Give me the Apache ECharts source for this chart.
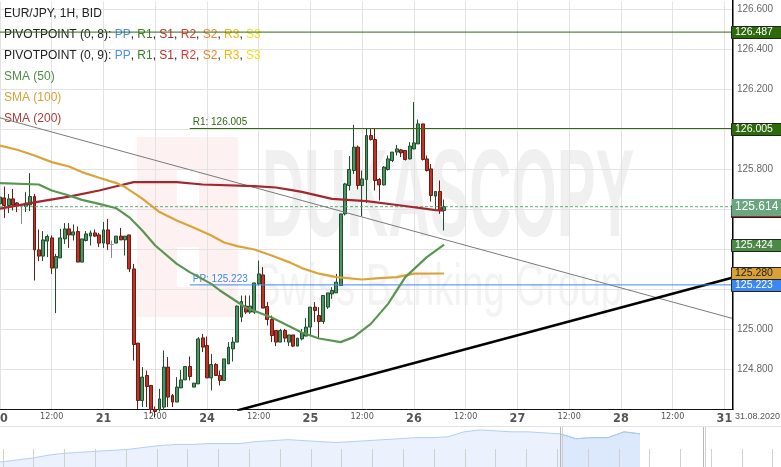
<!DOCTYPE html>
<html><head><meta charset="utf-8">
<script src="https://cdn.jsdelivr.net/npm/echarts@6/dist/echarts.min.js"></script>
<style>html,body{margin:0;padding:0;background:#fff;overflow:hidden}#c{width:781px;height:467px}</style>
</head><body><div id="c"></div>
<script>
// ---------- DATA ----------
const dayLabels = ['20','21','24','25','26','27','28','31'];
const lastDateLabel = '31.08.2020';
// hourly candles [open, close, low, high]
const candles = [
[125.628,125.662,125.620,125.712],[125.658,125.620,125.558,125.715],[125.620,125.653,125.582,125.678],
[125.653,125.623,125.595,125.703],[125.633,125.617,125.587,125.637],[125.620,125.620,125.528,125.622],
[125.615,125.632,125.587,125.687],[125.623,125.665,125.592,125.782],[125.665,125.398,125.245,125.678],
[125.398,125.367,125.342,125.500],[125.367,125.448,125.342,125.492],[125.442,125.465,125.362,125.475],
[125.458,125.307,125.278,125.470],[125.307,125.365,125.082,125.378],[125.358,125.458,125.358,125.503],
[125.453,125.503,125.428,125.532],[125.503,125.473,125.408,125.532],[125.472,125.488,125.445,125.525],
[125.490,125.337,125.337,125.515],[125.337,125.453,125.337,125.453],[125.445,125.478,125.440,125.492],
[125.467,125.483,125.420,125.495],[125.483,125.467,125.462,125.500],[125.473,125.432,125.412,125.483],
[125.432,125.498,125.408,125.537],[125.498,125.428,125.398,125.553],[125.425,125.425,125.358,125.445],
[125.432,125.467,125.432,125.467],[125.467,125.448,125.448,125.508],[125.448,125.467,125.370,125.467],
[125.473,125.303,125.287,125.473],[125.303,124.925,124.845,125.328],[124.932,124.645,124.603,124.932],
[124.645,124.762,124.612,124.812],[124.770,124.715,124.612,124.795],[124.720,124.600,124.580,124.720],
[124.600,124.590,124.560,124.615],[124.600,124.653,124.590,124.703],[124.612,124.812,124.600,124.895],
[124.812,124.662,124.612,124.862],[124.670,124.637,124.612,124.678],[124.637,124.712,124.637,124.762],
[124.708,124.748,124.708,124.798],[124.748,124.815,124.748,124.815],[124.815,124.765,124.745,124.865],
[124.712,124.732,124.712,124.732],[124.728,124.953,124.728,124.962],[124.958,124.912,124.887,124.978],
[124.920,124.758,124.758,124.965],[124.758,124.825,124.695,124.878],[124.825,124.770,124.770,124.832],
[124.770,124.745,124.720,124.795],[124.745,124.853,124.745,124.853],[124.828,124.912,124.828,124.937],
[124.903,124.937,124.840,124.962],[124.937,125.117,124.937,125.120],[125.062,125.140,125.037,125.170],
[125.117,125.087,125.078,125.170],[125.087,125.117,125.078,125.170],[125.087,125.233,125.078,125.233],
[125.228,125.278,125.220,125.345],[125.273,125.107,125.107,125.312],[125.115,125.050,125.020,125.137],
[125.050,124.970,124.937,125.070],[124.995,124.937,124.917,124.995],[124.937,124.995,124.937,125.003],
[124.995,124.957,124.937,125.003],[124.937,124.973,124.917,124.973],[124.973,124.917,124.912,124.973],
[124.917,124.957,124.917,124.957],[124.953,124.983,124.945,125.003],[124.967,125.012,124.967,125.057],
[125.012,125.112,124.970,125.112],[125.112,125.095,125.037,125.137],[125.070,125.040,124.953,125.112],
[125.040,125.170,125.028,125.170],[125.112,125.183,125.103,125.183],[125.178,125.195,125.153,125.212],
[125.183,125.237,125.183,125.278],[125.220,125.578,125.217,125.578],[125.578,125.728,125.570,125.733],
[125.720,125.800,125.695,125.867],[125.795,125.912,125.778,126.023],[125.912,125.720,125.700,125.920],
[125.720,125.753,125.567,125.795],[125.750,125.970,125.633,126.003],[125.970,125.950,125.945,126.003],
[125.950,125.745,125.695,126.003],[125.750,125.723,125.645,125.757],[125.723,125.812,125.720,125.817],
[125.800,125.853,125.795,125.870],[125.845,125.887,125.837,125.887],[125.887,125.903,125.870,125.923],
[125.898,125.883,125.862,125.903],[125.895,125.850,125.845,125.895],[125.853,125.917,125.850,125.937],
[125.903,125.933,125.900,126.137],[125.928,126.028,125.928,126.050],[126.028,125.850,125.845,126.028],
[125.853,125.795,125.790,125.870],[125.803,125.670,125.640,125.828],[125.667,125.690,125.603,125.690],
[125.690,125.595,125.578,125.745],[125.595,125.614,125.495,125.650]
];
// moving averages read at selected hours [hourIndex, value]
const sma50 = [[0,125.732],[9,125.725],[12,125.695],[16,125.67],[19,125.648],[23,125.628],[27,125.606],
 [30,125.561],[33,125.495],[36,125.42],[41,125.328],[44,125.287],[49,125.228],[51,125.195],[57,125.11],
 [63,125.06],[70,124.985],[74,124.955],[79,124.937],[82,124.962],[86,125.028],[90,125.128],[94,125.262],
 [99,125.362],[103,125.424]];
const sma100 = [[0,125.92],[4,125.899],[8,125.87],[12,125.837],[16,125.815],[19,125.787],[23,125.759],
 [27,125.732],[29,125.712],[33,125.654],[37,125.587],[41,125.545],[45,125.509],[49,125.47],[52,125.435],
 [55,125.417],[59,125.4],[63,125.37],[67,125.337],[70,125.307],[74,125.279],[78,125.262],[84,125.25],
 [88,125.257],[92,125.262],[96,125.279],[103,125.28]];
const sma200 = [[0,125.604],[8,125.636],[16,125.664],[23,125.695],[27,125.716],[31,125.737],[41,125.737],
 [47,125.725],[59,125.717],[64,125.71],[67,125.699],[70,125.688],[77,125.653],[85,125.642],[93,125.62],
 [101,125.597],[103,125.594]];
const pivotPrev = 126.487, pivotR1 = 126.005, pivotPP = 125.223, lastPrice = 125.614;
const pivotStartHour = 44;
const trendGray = [[0,126.0585],[170,125.0545]];
const trendBlack = [[55,124.595],[170,125.26]];
// overview navigator (EUR/JPY, earlier period)
const navValues = [121.00,121.31,121.63,122.10,122.41,122.57,122.73,122.88,123.04,123.36,123.67,123.83,
 123.83,123.98,123.98,123.98,124.30,124.45,124.61,124.45,124.30,124.14,124.30,124.45,124.61,124.77,124.93,
 124.93,125.08,125.87,126.18,126.02,125.87,125.87,125.71,125.55,124.77,124.93,124.93,125.87,125.55];
const navSelStart = 35;
const yMin = 124.6, yMax = 126.64, xMax = 170;

// ---------- CHART ----------
const FONT = '"Liberation Sans", Arial, sans-serif';
const categories = [];
for (let i = 0; i <= xMax; i++) {
  const d = dayLabels[Math.floor(i / 24)] || '31';
  const h = i % 24;
  categories.push(d + ' ' + String(h).padStart(2, '0') + ':00');
}
const chart = echarts.init(document.getElementById('c'));
function ln(data, color, width, extra) {
  return Object.assign({type:'line', xAxisIndex:1, yAxisIndex:0, data, showSymbol:false, symbol:'none',
    silent:true, animation:false, lineStyle:{color, width}, z:4}, extra || {});
}
const navSel = navValues.map((v, i) => i >= navSelStart ? v : null);
const option = {
  animation:false,
  textStyle:{fontFamily:FONT},
  grid:[{left:0, top:1.5, width:733, height:408, containLabel:false, outerBoundsMode:'none'},
        {left:0, top:427, width:640, height:40, containLabel:false, outerBoundsMode:'none'}],
  xAxis:[
    {type:'category', gridIndex:0, data:categories, boundaryGap:false,
     axisLine:{show:true, onZero:false, lineStyle:{color:'#111', width:1}}, axisTick:{show:false},
     axisLabel:{interval:11, margin:3, color:'#555',
       formatter:v => { const p = v.split(' '); return p[1] === '00:00' ? '{d|' + p[0] + '}' : '{t|' + p[1] + '}'; },
       rich:{d:{fontSize:12.5, fontWeight:'bold', color:'#555', fontFamily:'"DejaVu Sans Condensed", "Liberation Sans Narrow", ' + FONT},
             t:{fontSize:9, color:'#555', fontFamily:'"DejaVu Sans Condensed", ' + FONT}}},
     splitLine:{show:true, interval:11, lineStyle:{color:'#e3e3e3', width:1}}},
    {type:'value', gridIndex:0, min:0, max:xMax, show:false},
    {type:'category', gridIndex:1, data:navValues.map((v,i)=>i), boundaryGap:false, show:false}
  ],
  yAxis:[
    {type:'value', gridIndex:0, position:'right', min:yMin, max:yMax, interval:0.2,
     axisLine:{show:false}, axisTick:{show:false},
     axisLabel:{color:'#666', fontSize:10, margin:4, showMinLabel:false, showMaxLabel:false,
       formatter:v => (Math.abs(v*5 - Math.round(v*5)) < 1e-6 ? v.toFixed(3) : '')},
     splitLine:{show:true, showMinLine:false, showMaxLine:false, lineStyle:{color:'#e3e3e3', width:1}}},
    {type:'value', gridIndex:1, min:120.2, max:126.65, show:false}
  ],
  series:[
    {type:'candlestick', xAxisIndex:0, yAxisIndex:0, data:candles, barWidth:3.4, z:3,
     itemStyle:{color:'#4e9463', color0:'#be3428', borderColor:'#1d4f2c', borderColor0:'#6b1a14',
       borderColorDoji:'#888', borderWidth:1}},
    ln(trendGray, '#7a7a7a', 1),
    ln(trendBlack, '#000', 2.5),
    ln([[0,pivotPrev],[xMax,pivotPrev]], '#2e6b12', 1),
    ln([[pivotStartHour,pivotR1],[xMax,pivotR1]], '#2e6b12', 1),
    ln([[pivotStartHour,pivotPP],[xMax,pivotPP]], '#3d88f0', 1),
    ln([[0,lastPrice],[xMax,lastPrice]], '#5aaa78', 1, {lineStyle:{color:'#5aaa78', width:1, type:[3,2]}}),
    ln(sma200, '#a3272f', 2.2, {z:5}),
    ln(sma100, '#daa43a', 2.2, {z:5}),
    ln(sma50, '#5a9652', 2.2, {z:5}),
    {type:'line', xAxisIndex:2, yAxisIndex:1, data:navValues, showSymbol:false, symbol:'none', silent:true,
     lineStyle:{color:'#b4cff3', width:1}, areaStyle:{color:'#ebf2fd', opacity:1}},
    {type:'line', xAxisIndex:2, yAxisIndex:1, data:navSel, showSymbol:false, symbol:'none', silent:true,
     lineStyle:{color:'#a9c7f2', width:1}, areaStyle:{color:'#dce8fb', opacity:1}}
  ]
};
chart.setOption(option);

// ---------- decorations placed through the axes ----------
const g = [];
function yPx(v) { return chart.convertToPixel({yAxisIndex:0}, v); }
function px(i, v) { return chart.convertToPixel({xAxisIndex:1, yAxisIndex:0}, [i, v]); }
// right price-axis border
const pTop = px(xMax, yMax), pBot = px(xMax, yMin);
g.push({type:'rect', z:60, shape:{x:Math.round(pTop[0]) - 1, y:0, width:1.5, height:Math.round(pBot[1])}, style:{fill:'#000'}});
// watermark
g.push({type:'rect', z:-5, shape:{x:137, y:137, width:101, height:180}, style:{fill:'#fdf1f1'}});
g.push({type:'rect', z:-5, shape:{x:177, y:170, width:22, height:35}, style:{fill:'#fff'}});
g.push({type:'rect', z:-5, shape:{x:177, y:247, width:22, height:40}, style:{fill:'#fff'}});
g.push({type:'text', z:-5, x:262, y:140, scaleX:0.47, style:{text:'DUKASCOPY', font:'bold 124px ' + FONT, fill:'#f0f0f0'}});
g.push({type:'text', z:-5, x:255, y:258, scaleX:0.64, style:{text:'Swiss Banking Group', font:'60px ' + FONT, fill:'#f3f3f3'}});
// legend
g.push({type:'text', x:4, y:8, style:{text:'EUR/JPY, 1H, BID', font:'12px ' + FONT, fill:'#222'}});
const pivRich = {k:{fill:'#222', font:'12px ' + FONT}, pp:{fill:'#4a8ff0'}, r1:{fill:'#3a7d2a'}, s1:{fill:'#b52b2b'},
  r2:{fill:'#e8332b'}, s2:{fill:'#f0822a'}, r3:{fill:'#f5b800'}, s3:{fill:'#f0e21c'}};
['PIVOTPOINT (0, 8): ', 'PIVOTPOINT (0, 9): '].forEach((t, k) => {
  g.push({type:'text', x:4, y:29 + k*21, style:{
    text:'{k|' + t + '}{pp|PP}{k|, }{r1|R1}{k|, }{s1|S1}{k|, }{r2|R2}{k|, }{s2|S2}{k|, }{r3|R3}{k|, }{s3|S3}',
    font:'12px ' + FONT, rich:pivRich}});
});
[['SMA (50)', '#4e8f46'], ['SMA (100)', '#d9a035'], ['SMA (200)', '#b23a3a']].forEach((a, k) => {
  g.push({type:'text', x:4, y:71 + k*20.7, style:{text:a[0], font:'12px ' + FONT, fill:a[1]}});
});
// pivot labels
const pr1 = px(pivotStartHour, pivotR1), ppp = px(pivotStartHour, pivotPP);
g.push({type:'text', x:pr1[0] + 3, y:pr1[1] - 11, style:{text:'R1: ' + pivotR1.toFixed(3), font:'10px ' + FONT, fill:'#2e6b12'}});
g.push({type:'text', x:ppp[0] + 3, y:ppp[1] - 11, style:{text:'PP: ' + pivotPP.toFixed(3), font:'10px ' + FONT, fill:'#3d88f0'}});
// price boxes
let bz = 70;
function box(v, bg, fg, fs, h, border) {
  const y = Math.round(yPx(v));
  g.push({type:'rect', z:bz++, shape:{x:731.5, y:y - h/2 + 0.5, width:52, height:h},
    style:{fill:bg, stroke:border ? '#222' : null, lineWidth:border ? 1 : 0}});
  g.push({type:'text', z:bz++, x:735, y:y - fs/2, style:{text:v.toFixed(3), font:fs + 'px ' + FONT, fill:fg}});
}
box(pivotPrev, '#2d6a0c', '#fff', 10.5, 12, true);
box(pivotR1, '#2d6a0c', '#fff', 10.5, 12, true);
box(sma200[sma200.length-1][1], '#a3272f', '#fff', 10.5, 12, true);
box(lastPrice, '#6aa67f', '#fff', 12, 17, false);
box(sma50[sma50.length-1][1], '#4b8a45', '#fff', 10.5, 12, true);
box(sma100[sma100.length-1][1], '#d9a035', '#222', 10.5, 12, true);
box(pivotPP, '#3d88f0', '#fff', 10.5, 12, true);
// date label at end of axis
g.push({type:'text', x:735, y:412, style:{text:lastDateLabel, font:'9px ' + FONT, fill:'#555'}});
// navigator frame, week ticks, selection handles
g.push({type:'rect', shape:{x:0, y:426, width:781, height:1}, style:{fill:'#e2e2e2'}});
for (let x = 2.5; x < 781; x += 30.8) {
  g.push({type:'rect', z:10, shape:{x:Math.round(x), y:449, width:1, height:18}, style:{fill:'#d0d0d0'}});
}
[560, 703].forEach(x => {
  g.push({type:'rect', z:11, shape:{x:x, y:427, width:1, height:40}, style:{fill:'#b8b8b8'}});
  g.push({type:'rect', z:11, shape:{x:x + 2, y:427, width:1, height:40}, style:{fill:'#cfcfcf'}});
});
chart.setOption({graphic:{elements:g}});
</script>
</body></html>
